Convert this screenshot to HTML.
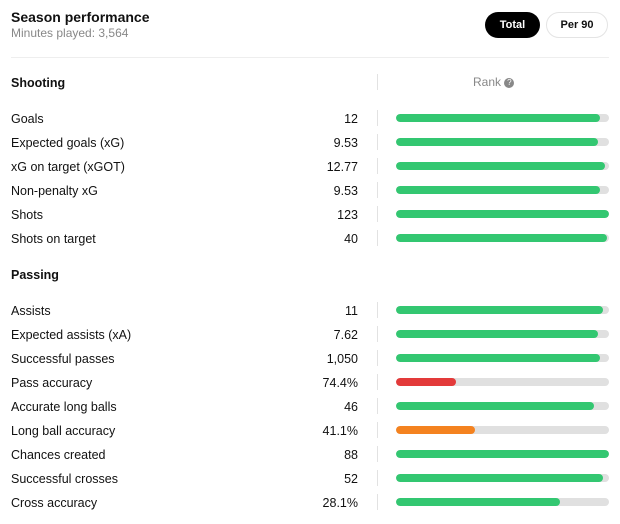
<!DOCTYPE html>
<html><head><meta charset="utf-8"><style>
body{margin:0;width:620px;height:524px;background:#fff;font-family:"Liberation Sans",sans-serif;color:#111;position:relative;overflow:hidden}
.a{position:absolute;white-space:nowrap}
.lbl{font-size:12.5px;left:11px}
.val{font-size:12.5px;right:262px;text-align:right}
.div{position:absolute;left:377px;width:1px;height:16px;background:#e2e2e2}
.track{position:absolute;left:396px;width:213px;height:8px;border-radius:4px;background:#e0e0e0;overflow:hidden}
.fill{position:absolute;left:0;top:0;height:8px;border-radius:4px}
.btn{position:absolute;top:12px;height:26px;border-radius:13px;font-size:11px;font-weight:bold;display:flex;align-items:center;justify-content:center}
</style></head><body>
<div class="a" style="left:11px;top:9px;font-size:14px;font-weight:bold">Season performance</div>
<div class="a" style="left:11px;top:26px;font-size:12px;color:#888">Minutes played: 3,564</div>
<div class="btn" style="left:485px;width:55px;background:#000;color:#fff">Total</div>
<div class="btn" style="left:546px;width:62px;border:1px solid #e4e4e4;box-sizing:border-box;color:#111">Per 90</div>
<div class="a" style="left:11px;top:57px;width:598px;height:1px;background:#eee"></div>
<div class="a" style="left:473px;top:75px;font-size:12px;color:#888">Rank <span style="display:inline-block;width:10px;height:10px;border-radius:5px;background:#888;color:#fff;font-size:8px;text-align:center;line-height:10px;vertical-align:1px">?</span></div>
<div class="div" style="top:74px"></div>
<div id="rows"></div>
<script>
const sections=["Shooting","Passing"];
const labels=[["Goals","Expected goals (xG)","xG on target (xGOT)","Non-penalty xG","Shots","Shots on target"],["Assists","Expected assists (xA)","Successful passes","Pass accuracy","Accurate long balls","Long ball accuracy","Chances created","Successful crosses","Cross accuracy"]];
const values=[["12","9.53","12.77","9.53","123","40"],["11","7.62","1,050","74.4%","46","41.1%","88","52","28.1%"]];
const ranks=[[96,95,98,96,100,99],[97,95,96,28,93,37,100,97,77]];
const root=document.getElementById('rows');
function color(r){return r<33?'#e33a3a':r<60?'#f4821f':'#33c771';}
function xScale(r){return 213*r/100;}
let y=82;
sections.forEach((s,si)=>{
  const h=document.createElement('div');h.className='a';h.style.cssText=`left:11px;top:${y-6}px;font-size:12.5px;font-weight:bold`;h.textContent=s;
  
  
  root.appendChild(h);
  y+=36;
  labels[si].forEach((l,i)=>{
    const slug=l.toLowerCase().replace(/[^a-z0-9]+/g,'-').replace(/-$/,'');
    const a=document.createElement('div');a.className='a lbl';a.style.top=(y-6)+'px';a.textContent=l;
    
    
    root.appendChild(a);
    const v=document.createElement('div');v.className='a val';v.style.top=(y-6)+'px';v.textContent=values[si][i];
    
    
    root.appendChild(v);
    const d=document.createElement('div');d.className='div';d.style.top=(y-8)+'px';
    
    
    root.appendChild(d);
    const t=document.createElement('div');t.className='track';t.style.top=(y-4)+'px';
    
    
    const f=document.createElement('div');f.className='fill';f.style.width=xScale(ranks[si][i])+'px';f.style.background=color(ranks[si][i]);
    
    
    t.appendChild(f);root.appendChild(t);
    y+=24;
  });
  y+=12;
});
</script>
</body></html>
